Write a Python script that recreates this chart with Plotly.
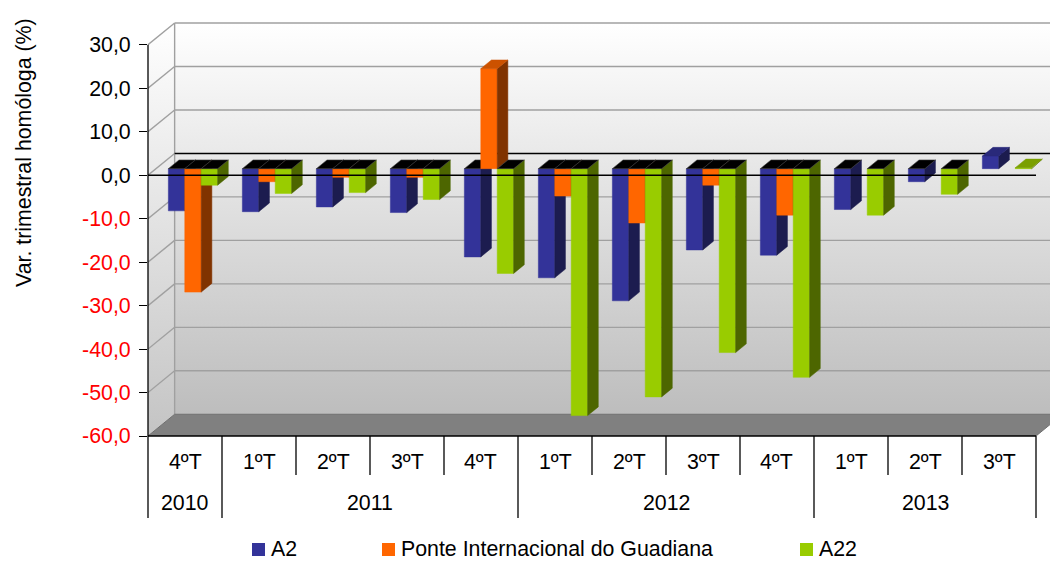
import plotly.graph_objects as go

# ---------------- data ----------------
quarters = ["4ºT", "1ºT", "2ºT", "3ºT", "4ºT", "1ºT", "2ºT", "3ºT", "4ºT", "1ºT", "2ºT", "3ºT"]
years = ["2010", "2011", "2012", "2013"]
year_counts = [1, 4, 4, 3]
series_names = ["A2", "Ponte Internacional do Guadiana", "A22"]
a2 = [-9.7, -9.9, -8.8, -10.1, -20.3, -25.1, -30.4, -18.7, -19.9, -9.4, -3.0, 2.9]
ponte = [-28.4, -3.0, -2.0, -2.0, 23.0, -6.3, -12.5, -3.8, -10.7, None, None, None]
a22 = [-3.8, -5.7, -5.5, -7.1, -24.1, -56.8, -52.5, -42.3, -48.0, -10.7, -5.9, 0.2]
y_ticks = [-60, -50, -40, -30, -20, -10, 0, 10, 20, 30]
y_title = "Var. trimestral homóloga (%)"

series_values = [a2, ponte, a22]

# ---------------- style ----------------
FONT = "Liberation Sans, Arial, sans-serif"
FS = 21.33
front_col = ["#333399", "#FF6600", "#99CC00"]
side_col = ["#1C1C4F", "#803300", "#4D6600"]
toppos_col = ["#29297A", "#CC5200", "#7A9F00"]

W, H = 1050, 561
ML, MR, MT, MB = 148, 0, 21, 125
PW, PH = W - ML - MR, H - MT - MB
CAT_PX = 74.0
X0 = -0.5
X1 = X0 + PW / CAT_PX
Y0, Y1 = -60.0, -60.0 + PH / 4.347

DX, DY = 0.36, 5.0          # full depth offset (categories, value units)
F0, F1 = 0.30, 0.70         # bar depth span
SX0, SY0 = DX * F0, DY * F0
DXB, DYB = DX * (F1 - F0), DY * (F1 - F0)
BW = 0.222
offsets = [-1.5 * BW, -0.5 * BW, 0.5 * BW]

ymin_t, ymax_t = min(y_ticks), max(y_ticks)
nc = len(quarters)


def xp(x):  # data x -> paper
    return (x - X0) / (X1 - X0)


def ypx(py):  # pixel y -> paper
    return (H - MB - py) / PH


def yv(v):  # data y -> paper
    return (v - Y0) / (Y1 - Y0)


fig = go.Figure()

# ---------------- walls ----------------
xb0 = X0 + DX
fig.add_trace(go.Scatter(
    x=[xb0, X1 + 1, X1 + 1, xb0, xb0], y=[ymin_t + DY, ymin_t + DY, ymax_t + DY, ymax_t + DY, ymin_t + DY],
    mode="lines", line=dict(width=0), fill="toself",
    fillgradient=dict(type="vertical", colorscale=[[0, "#BDBDBD"], [1, "#FFFFFF"]]),
    hoverinfo="skip", showlegend=False))
fig.add_trace(go.Scatter(
    x=[X0, xb0, xb0, X0, X0], y=[ymin_t, ymin_t + DY, ymax_t + DY, ymax_t, ymin_t],
    mode="lines", line=dict(width=0), fill="toself",
    fillgradient=dict(type="vertical", colorscale=[[0, "#C4C4C4"], [1, "#FFFFFF"]]),
    hoverinfo="skip", showlegend=False))

# gridlines on back wall and side wall
gx, gy, zx, zy = [], [], [], []
for v in y_ticks[1:]:
    tx, ty = (zx, zy) if v == 0 else (gx, gy)
    tx += [xb0, X1 + 1, None]
    ty += [v + DY, v + DY, None]
    gx += [X0, xb0, None]
    gy += [v, v + DY, None]
gx += [xb0, xb0, None]
gy += [ymin_t + DY, ymax_t + DY, None]
fig.add_trace(go.Scatter(x=gx, y=gy, mode="lines", line=dict(color="#A0A0A0", width=1.4),
                         hoverinfo="skip", showlegend=False))
fig.add_trace(go.Scatter(x=zx, y=zy, mode="lines", line=dict(color="#000000", width=1.4),
                         hoverinfo="skip", showlegend=False))

# floor
xf1 = X0 + nc
fig.add_trace(go.Scatter(
    x=[X0, xf1, xf1 + DX, xb0, X0], y=[ymin_t, ymin_t, ymin_t + DY, ymin_t + DY, ymin_t],
    mode="lines", line=dict(color="#6E6E6E", width=1), fill="toself", fillcolor="#808080",
    hoverinfo="skip", showlegend=False))

# ---------------- bars ----------------
for s, vals in enumerate(series_values):
    fx, fy, sx, sy, tnx, tny, tpx, tpy = [], [], [], [], [], [], [], []
    for i, v in enumerate(vals):
        if v is None:
            continue
        xl = i + offsets[s] + SX0
        xr = xl + BW
        b, t = SY0, v + SY0
        fx += [xl, xr, xr, xl, xl, None]
        fy += [b, b, t, t, b, None]
        sx += [xr, xr + DXB, xr + DXB, xr, xr, None]
        sy += [b, b + DYB, t + DYB, t, b, None]
        lev = max(v, 0) + SY0
        if v > 0:
            tpx += [xl, xr, xr + DXB, xl + DXB, xl, None]
            tpy += [lev, lev, lev + DYB, lev + DYB, lev, None]
        else:
            tnx += [xl, xr, xr + DXB, xl + DXB, xl, None]
            tny += [lev, lev, lev + DYB, lev + DYB, lev, None]
    fig.add_trace(go.Scatter(x=fx, y=fy, mode="lines", fill="toself", fillcolor=front_col[s],
                             line=dict(width=0.5, color=front_col[s]), name=series_names[s],
                             hoverinfo="skip", showlegend=False))
    fig.add_trace(go.Scatter(x=sx, y=sy, mode="lines", fill="toself", fillcolor=side_col[s],
                             line=dict(width=0.5, color=side_col[s]),
                             hoverinfo="skip", showlegend=False))
    if tnx:
        fig.add_trace(go.Scatter(x=tnx, y=tny, mode="lines", fill="toself", fillcolor="#000000",
                                 line=dict(width=0.6, color="#3A3A3A"),
                                 hoverinfo="skip", showlegend=False))
    if tpx:
        fig.add_trace(go.Scatter(x=tpx, y=tpy, mode="lines", fill="toself", fillcolor=toppos_col[s],
                                 line=dict(width=0.5, color=toppos_col[s]),
                                 hoverinfo="skip", showlegend=False))

# front zero line (drawn over the bars)
fig.add_trace(go.Scatter(x=[X0, xf1], y=[0, 0], mode="lines", line=dict(color="#000000", width=1.5),
                         hoverinfo="skip", showlegend=False))

# ---------------- axes frame / category table ----------------
shapes = []
shapes.append(dict(type="line", xref="paper", yref="paper", x0=0, x1=0,
                   y0=ypx(518), y1=yv(ymax_t), line=dict(color="#000000", width=1.3)))
shapes.append(dict(type="line", xref="paper", yref="paper", x0=0, x1=xp(xf1),
                   y0=yv(ymin_t), y1=yv(ymin_t), line=dict(color="#000000", width=1.3)))

TXT = dict(family=FONT, size=FS, color="#000000")
annotations = []
year_bounds = set()
pos = 0
for k, cnt in enumerate(year_counts):
    year_bounds.add(pos)
    annotations.append(dict(text=years[k], xref="paper", yref="paper",
                            x=xp(pos + (cnt - 1) / 2.0), y=ypx(503), xanchor="center", yanchor="middle",
                            showarrow=False, font=TXT))
    pos += cnt
year_bounds.add(pos)
for b in range(1, nc + 1):
    y_end = 518 if b in year_bounds else 475
    shapes.append(dict(type="line", xref="paper", yref="paper", x0=xp(b - 0.5), x1=xp(b - 0.5),
                       y0=yv(ymin_t), y1=ypx(y_end), line=dict(color="#000000", width=1.3)))
for i, q in enumerate(quarters):
    annotations.append(dict(text=q, xref="paper", yref="paper", x=xp(i), y=ypx(462),
                            xanchor="center", yanchor="middle", showarrow=False, font=TXT))

annotations.append(dict(text=y_title, xref="paper", yref="paper", x=(24 - ML) / PW, y=ypx(152),
                        xanchor="center", yanchor="middle", textangle=-90, showarrow=False, font=TXT))

leg_sq = [252, 382, 800]
for s in range(3):
    x0p = leg_sq[s]
    shapes.append(dict(type="rect", xref="paper", yref="paper",
                       x0=(x0p - ML) / PW, x1=(x0p + 13 - ML) / PW,
                       y0=ypx(556), y1=ypx(543), fillcolor=front_col[s], line=dict(width=0)))
    annotations.append(dict(text=series_names[s], xref="paper", yref="paper",
                            x=(x0p + 17 - ML) / PW, y=ypx(549), xanchor="left", yanchor="middle",
                            showarrow=False, font=TXT))

ticktext = []
for v in y_ticks:
    lab = f"{v:.1f}".replace(".", ",")
    ticktext.append(f"<span style='color:#FF0000'>{lab}</span>" if v < 0 else lab)

fig.update_layout(
    width=W, height=H,
    margin=dict(l=ML, r=MR, t=MT, b=MB, autoexpand=False),
    paper_bgcolor="#FFFFFF", plot_bgcolor="#FFFFFF",
    showlegend=False,
    xaxis=dict(range=[X0, X1], visible=False, fixedrange=True),
    yaxis=dict(range=[Y0, Y1], tickvals=y_ticks, ticktext=ticktext, ticks="outside", ticklen=8,
               tickcolor="#000000", tickwidth=1.3, showgrid=False, zeroline=False, showline=False,
               ticklabelstandoff=4, automargin=False,
               tickfont=TXT, fixedrange=True),
    shapes=shapes, annotations=annotations,
)

fig.write_html("out.html", config={"displayModeBar": False},
               post_script="document.body.style.margin='0px';document.body.style.overflow='hidden';")
